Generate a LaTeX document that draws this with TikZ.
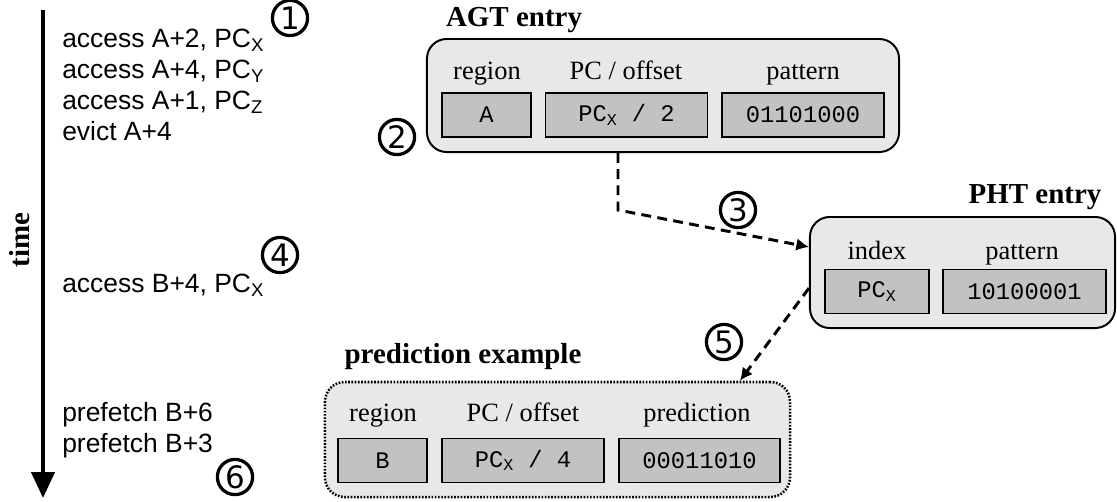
\documentclass[tikz,border=0pt]{standalone}
\usepackage{fontspec}
\setmainfont{Liberation Serif}
\setsansfont{Liberation Sans}
\setmonofont{Liberation Mono}
\newfontfamily\circfont{DejaVu Sans}
\usetikzlibrary{calc,arrows.meta,positioning}
\definecolor{EntryGray}{gray}{0.91}
\definecolor{CellGray}{gray}{0.76}

\begin{document}
\begin{tikzpicture}[
    x=0.025cm, y=-0.025cm,
    entry/.style={draw, line width=1.4pt, rounded corners=14pt,
        fill=EntryGray, inner sep=0pt},
    cell/.style={draw, line width=1pt, fill=CellGray, inner sep=0pt,
        minimum height=1.1cm, font=\fontsize{16.9}{20}\ttfamily},
    field/.style={font=\fontsize{18.8}{22}\rmfamily, inner sep=0pt, anchor=base},
    title/.style={font=\fontsize{20.6}{24}\rmfamily\bfseries, inner sep=0pt, anchor=base},
    event/.style={font=\fontsize{18.8}{22}\sffamily, align=left, inner sep=0pt,
        anchor=base west},
    circnum/.style={circle, draw, line width=2.3pt, minimum size=0.88cm, inner sep=0pt,
        font=\fontsize{22}{22}\circfont},
    flow/.style={line width=2.1pt, dash pattern=on 7pt off 4.5pt,
        -{Latex[length=9pt, width=9pt]}},
]
\useasboundingbox (0,0) rectangle (1117,501);

% time axis
\coordinate (tstart) at (43,10);
\coordinate (tend) at (43,498);
\draw[line width=3.2pt, -{Triangle[length=0.65cm, width=0.575cm]}] (tstart) -- (tend);
\node[title, anchor=center, rotate=90] (time) at (20,240) {time};

% events (base = last line)
\node[event] (ev1) at (62,140) {access A+2, PC\textsubscript{X}\\
    access A+4, PC\textsubscript{Y}\\
    access A+1, PC\textsubscript{Z}\\
    evict A+4};
\node[event] (ev2) at (62,292) {access B+4, PC\textsubscript{X}};
\node[event] (ev3) at (62,452) {prefetch B+6\\prefetch B+3};

% AGT entry
\node[entry, minimum width=11.8cm, minimum height=2.825cm] (agt) at (663,95.5) {};
\node[title] (agttitle) at (514,26) {AGT entry};
\node[cell, minimum width=2.225cm] (agtA) at (486.5,115) {A};
\node[cell, minimum width=4.05cm] (agtPC) at (626.5,115) {PC\textsubscript{X} / 2};
\node[cell, minimum width=4.05cm] (agtpat) at (803,115) {01101000};
\node[field] at (487,79) {region};
\node[field] at (626,79) {PC / offset};
\node[field] at (803,79) {pattern};

% PHT entry
\node[entry, minimum width=7.625cm, minimum height=2.775cm] (pht) at (962.5,272.5) {};
\node[title] (phttitle) at (1035,203) {PHT entry};
\node[cell, minimum width=2.6cm] (phtidx) at (877,291.5) {PC\textsubscript{X}};
\node[cell, minimum width=4.075cm] (phtpat) at (1024.5,291.5) {10100001};
\node[field] at (877,259) {index};
\node[field] at (1022,259) {pattern};

% prediction example
\node[entry, dash pattern=on 1.2pt off 1.1pt, line width=1.8pt,
    minimum width=11.625cm, minimum height=2.875cm] (pred) at (557.5,439.5) {};
\node[title] (predtitle) at (463,363) {prediction example};
\node[cell, minimum width=2.225cm] (predB) at (382.5,460.5) {B};
\node[cell, minimum width=4.05cm] (predPC) at (523,460.5) {PC\textsubscript{X} / 4};
\node[cell, minimum width=4.025cm] (predbits) at (699.5,460.5) {00011010};
\node[field] at (383,421) {region};
\node[field] at (523,421) {PC / offset};
\node[field] at (697,421) {prediction};

% flows
\coordinate (corner) at (618,210);
\draw[flow] (agt.south -| corner) -- (corner) -- ([yshift=0.6375cm]pht.west);
\draw[flow] ([yshift=-0.39cm]pht.west) -- ([xshift=4.56cm]pred.north);

% step numbers
\node[circnum] (n1) at (290,18) {1};
\node[circnum] (n2) at (397,137) {2};
\node[circnum] (n3) at (738,210) {3};
\node[circnum] (n4) at (280,255) {4};
\node[circnum] (n5) at (724,342) {5};
\node[circnum] (n6) at (235,477) {6};

\end{tikzpicture}
\end{document}
